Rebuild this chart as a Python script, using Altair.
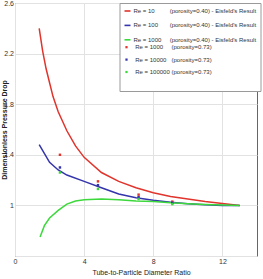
import altair as alt
import pandas as pd

FONT = "Liberation Sans, Arial, sans-serif"

# ---- series labels and colours ----
FS = "\u2007"
labels = [
    "Re = 10" + FS * 4 + "\u00a0(porosity=0.40) - Eisfeld's Result",
    "Re = 100" + FS * 3 + "\u00a0(porosity=0.40) - Eisfeld's Result",
    "Re = 1000" + FS * 2 + "\u00a0(porosity=0.40) - Eisfeld's Result",
    "Re = 1000" + FS * 2 + "\u00a0(porosity=0.73)",
    "Re = 10000" + FS * 1 + "\u00a0(porosity=0.73)",
    "Re = 100000" + "\u00a0(porosity=0.73)",
]
colors = ["#e0342c", "#3434ac", "#3cd83c", "#e0342c", "#3434ac", "#3cd83c"]

# ---- Eisfeld curves (porosity 0.40) ----
red_x = [1.4, 1.6, 1.8, 2.0, 2.2, 2.5, 3.0, 3.5, 4.0, 5.0, 6.0, 7.0, 8.0, 9.0, 10.0, 11.0, 12.0, 13.0]
red_y = [2.40, 2.22, 2.08, 1.97, 1.86, 1.74, 1.59, 1.47, 1.38, 1.26, 1.19, 1.14, 1.10, 1.07, 1.05, 1.03, 1.015, 1.00]

blue_x = [1.4, 2.0, 2.5, 3.0, 4.0, 5.0, 6.0, 7.0, 8.0, 9.0, 10.0, 11.0, 12.0, 13.0]
blue_y = [1.48, 1.34, 1.28, 1.24, 1.19, 1.14, 1.09, 1.06, 1.04, 1.025, 1.013, 1.005, 1.0, 1.0]

green_x = [1.45, 1.7, 2.0, 2.5, 3.0, 3.5, 4.0, 5.0, 6.0, 7.0, 8.0, 9.0, 10.0, 11.0, 12.0, 13.0]
green_y = [0.75, 0.84, 0.90, 0.96, 1.01, 1.035, 1.045, 1.05, 1.045, 1.035, 1.03, 1.02, 1.013, 1.007, 1.003, 1.0]

# ---- simulated points (porosity 0.73) ----
pts_x = [2.6, 4.8, 7.15, 9.1]
pts_red = [1.40, 1.19, 1.085, 1.03]
pts_blue = [1.30, 1.16, 1.065, 1.02]
pts_green = [1.26, 1.13, 1.05, 1.01]

x_ticks = [0, 2, 4, 6, 8, 10, 12, 14]
y_ticks = [0.6, 0.8, 1.0, 1.2, 1.4, 1.6, 1.8, 2.0, 2.2, 2.4, 2.6]
y_tick_labels = ["", "0.8", "1", "1.2", "1.4", "1.6", "1.8", "2", "2.2", "2.4", "2.6"]

rows = []
for lab, xs, ys in [(labels[0], red_x, red_y), (labels[1], blue_x, blue_y), (labels[2], green_x, green_y)]:
    for i, (a, b) in enumerate(zip(xs, ys)):
        rows.append({"series": lab, "x": a, "y": b, "order": i})
lines_df = pd.DataFrame(rows)

prow = []
for lab, ys in [(labels[3], pts_red), (labels[4], pts_blue), (labels[5], pts_green)]:
    for a, b in zip(pts_x, ys):
        prow.append({"series": lab, "x": a, "y": b})
pts_df = pd.DataFrame(prow)

LX, LY, PAD, ROWPAD, FSZ = 104.5, 0, 4, 6.4, 6
common = dict(title=None, padding=PAD, labelFont=FONT, labelFontSize=FSZ,
              labelColor="#333333", labelLimit=300, rowPadding=ROWPAD, orient="none")

legend_lines = alt.Legend(
    legendX=LX, legendY=LY, fillColor="white", strokeColor="#9a9a9a",
    cornerRadius=0, symbolType="stroke", symbolSize=36, symbolStrokeWidth=1.6,
    labelOffset=2, labelExpr="indexof(datum.label, '0.73') >= 0 ? '' : datum.label",
    **common)
legend_pts = alt.Legend(
    legendX=LX, legendY=LY + 3 * (FSZ + ROWPAD), symbolType="square", symbolSize=5,
    symbolStrokeWidth=0, labelOffset=2 + (6 - 5 ** 0.5), **common)

stroke = alt.Stroke("series:N",
                    scale=alt.Scale(domain=labels, range=colors[:3] + ["transparent"] * 3),
                    legend=legend_lines)
fill = alt.Fill("series:N", scale=alt.Scale(domain=labels[3:], range=colors[3:]),
                legend=legend_pts)

ylab_expr = "{" + ",".join(f"'{v:.1f}':'{t}'" for v, t in zip(y_ticks, y_tick_labels)) + "}"
xenc = alt.X("x:Q", scale=alt.Scale(domain=[0, 14], nice=False),
             axis=alt.Axis(values=x_ticks, title="Tube-to-Particle Diameter Ratio",
                           titleX=126, titleY=12, titleBaseline="top",
                           labelOverlap=False, labelFlush=False, labelBound=False))
yenc = alt.Y("y:Q", scale=alt.Scale(domain=[0.6, 2.6], nice=False, zero=False),
             axis=alt.Axis(values=y_ticks, title="Dimensionless Pressure Drop",
                           labelExpr=f"{ylab_expr}[format(datum.value, '.1f')]",
                           labelOverlap=False, labelFlush=False, labelBound=False,
                           titleX=-8, titleY=126.5, titleFontWeight="bold"))

lines = alt.Chart(lines_df).mark_line(strokeWidth=1.5).encode(
    x=xenc, y=yenc, stroke=stroke, order="order:Q")
points = alt.Chart(pts_df).mark_square(size=6, opacity=1, filled=True).encode(
    x="x:Q", y="y:Q", fill=fill)

chart = (lines + points).resolve_scale(stroke="independent", fill="independent").properties(
    width=242, height=253,
    autosize=alt.AutoSizeParams(type="none"),
    padding={"left": 15, "top": 3, "right": 6, "bottom": 23},
).configure_view(stroke="#666666", strokeWidth=1).configure_axis(
    grid=True, gridColor="#e2e2e2", gridWidth=1, domain=False, ticks=False,
    labelFont=FONT, labelFontSize=7, labelColor="#333333", labelPadding=1.5,
    titleFont=FONT, titleFontSize=7, titleColor="#222222", titleFontWeight="normal",
)

chart.save("out.html", embed_options={"renderer": "svg", "actions": False})
